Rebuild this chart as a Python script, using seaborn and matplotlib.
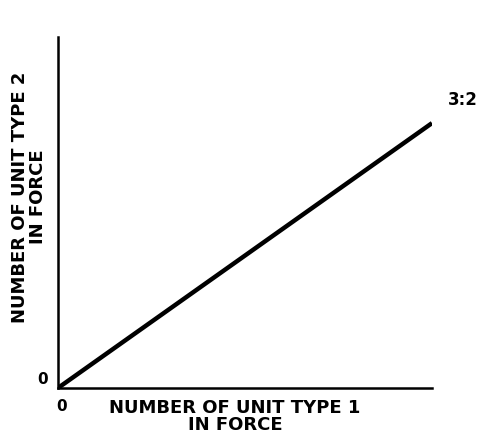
import numpy as np
import pandas as pd
import matplotlib
matplotlib.use("Agg")
import matplotlib.pyplot as plt
import seaborn as sns

# ratio line: units of type 1 vs units of type 2 (3:2)
type1 = [0, 3]
type2 = [0, 2]
ratio_label = "3:2"
x_title = "NUMBER OF UNIT TYPE 1\nIN FORCE"
y_title = "NUMBER OF UNIT TYPE 2\nIN FORCE"

sns.set_style("white")
plt.rcParams["font.family"] = ["DejaVu Sans"]
plt.rcParams["text.color"] = "black"

df = pd.DataFrame({"type1": type1, "type2": type2})

fig = plt.figure(figsize=(4.8, 4.39), dpi=100)
ax = fig.add_axes([0.1208, 0.1139, 0.7792, 0.7995])

sns.lineplot(data=df, x="type1", y="type2", color="black", linewidth=3.2,
             solid_capstyle="butt", ax=ax)

ax.set_xlim(0, 3)
ax.set_ylim(0, 2.65)

for side in ["top", "right"]:
    ax.spines[side].set_visible(False)
for side in ["left", "bottom"]:
    ax.spines[side].set_linewidth(1.8)
    ax.spines[side].set_color("black")

ax.set_xticks([0.03])
ax.set_xticklabels(["0"], fontweight="bold", fontsize=11, color="black")
ax.set_yticks([0.08])
ax.set_yticklabels(["0"], fontweight="bold", fontsize=11, color="black")
ax.tick_params(length=0, pad=7)

ax.set_xlabel(x_title, fontweight="bold", fontsize=13, linespacing=0.95,
              color="black")
ax.xaxis.set_label_coords(0.473, -0.028, transform=ax.transAxes)
ax.xaxis.label.set_va("top")
ax.set_ylabel(y_title, fontweight="bold", fontsize=13, linespacing=0.95,
              color="black")
ax.yaxis.set_label_coords(-0.03, 0.547, transform=ax.transAxes)

ax.annotate(ratio_label, xy=(type1[-1], type2[-1]), xytext=(31, 24),
            textcoords="offset pixels", ha="center", va="center",
            fontweight="bold", fontsize=12, color="black")

fig.savefig("out.png", dpi=100)
